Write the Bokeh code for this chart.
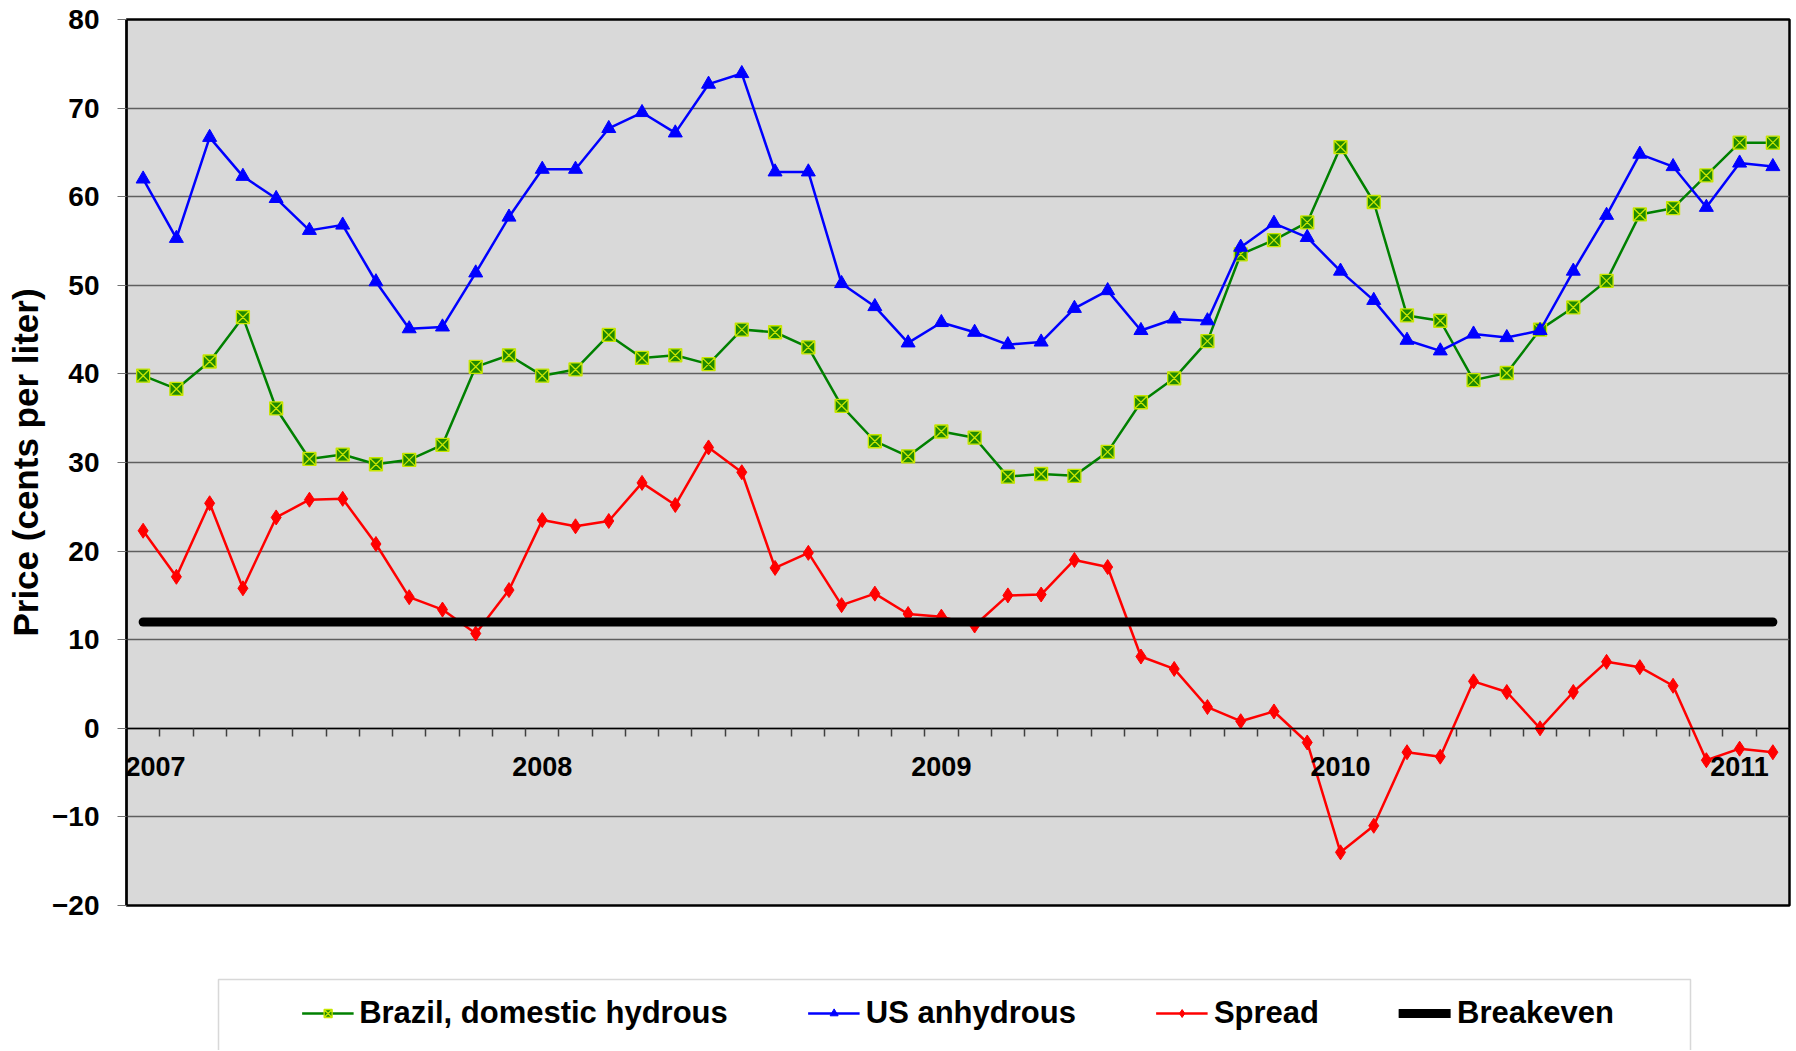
from bokeh.plotting import figure
from bokeh.layouts import column
from bokeh.models import Range1d, FixedTicker, Legend, LegendItem, BoxAnnotation
from bokeh.embed import file_html
from bokeh.resources import INLINE

# Monthly observations, Jan 2007 .. Feb 2011 (index = month number)
months = list(range(50))
year_labels = ["2007", "2008", "2009", "2010", "2011"]
year_positions = [0, 12, 24, 36, 48]

brazil = [39.8, 38.3, 41.4, 46.4, 36.1, 30.4, 30.9, 29.8, 30.3, 32.0,
          40.8, 42.1, 39.8, 40.5, 44.4, 41.8, 42.1, 41.1, 45.0, 44.7,
          43.0, 36.4, 32.4, 30.7, 33.5, 32.8, 28.4, 28.7, 28.5, 31.2,
          36.8, 39.5, 43.7, 53.5, 55.1, 57.1, 65.6, 59.4, 46.6, 46.0,
          39.3, 40.1, 45.0, 47.5, 50.5, 58.0, 58.7, 62.4, 66.1, 66.1]

us = [62.0, 55.3, 66.7, 62.3, 59.8, 56.2, 56.8, 50.4, 45.1, 45.3,
      51.4, 57.7, 63.1, 63.1, 67.7, 69.5, 67.2, 72.7, 73.9, 62.8,
      62.8, 50.2, 47.6, 43.5, 45.8, 44.7, 43.3, 43.6, 47.4, 49.4,
      44.9, 46.2, 46.0, 54.3, 57.0, 55.4, 51.6, 48.3, 43.8, 42.6,
      44.5, 44.1, 44.9, 51.6, 57.9, 64.8, 63.4, 58.8, 63.8, 63.4]

spread = [22.3, 17.1, 25.4, 15.8, 23.8, 25.8, 25.9, 20.8, 14.8, 13.4,
          10.7, 15.6, 23.5, 22.8, 23.4, 27.7, 25.2, 31.7, 28.9, 18.1,
          19.8, 13.9, 15.2, 12.9, 12.6, 11.6, 15.0, 15.1, 19.0, 18.2,
          8.1, 6.7, 2.4, 0.8, 1.9, -1.6, -14.0, -11.0, -2.7, -3.2,
          5.3, 4.1, 0.0, 4.1, 7.5, 6.9, 4.8, -3.6, -2.3, -2.7]

breakeven = 12.0
y_ticks = list(range(-20, 81, 10))

series_names = ["Brazil, domestic hydrous", "US anhydrous", "Spread", "Breakeven"]

FONT = "Liberation Sans"

# styles
GREEN_LINE = dict(line_color="#008000", line_width=2.5)
GREEN_MARK = dict(marker="square_x", size=13, fill_color="#1f8a00",
                  line_color="#c8e600", line_width=1.3)
BLUE_LINE = dict(line_color="#0000FF", line_width=2.5)
BLUE_MARK = dict(marker="triangle", size=14, fill_color="#0000FF", line_color="#0000FF")
RED_LINE = dict(line_color="#FF0000", line_width=2.5)
RED_MARK = dict(marker="diamond", size=15, fill_color="#FF0000", line_color="#FF0000")
BLACK_LINE = dict(line_color="black", line_width=9, line_cap="round")

x_lo, x_hi = months[0] - 0.5, months[-1] + 0.5

p = figure(width=1794, height=975, output_backend="svg", toolbar_location=None,
           x_range=Range1d(x_lo, x_hi), y_range=Range1d(-20, 80),
           min_border_left=126, min_border_right=5, min_border_top=19,
           min_border_bottom=70, background_fill_color="#D9D9D9",
           border_fill_color="white")

p.outline_line_color = "black"
p.outline_line_width = 2.5

# grid
p.xgrid.visible = False
p.ygrid.ticker = FixedTicker(ticks=y_ticks)
p.ygrid.grid_line_color = "#5f5f5f"
p.ygrid.grid_line_width = 1.5

# y axis
ya = p.yaxis[0]
ya.ticker = FixedTicker(ticks=y_ticks)
ya.major_label_text_font = FONT
ya.major_label_text_font_style = "bold"
ya.major_label_text_font_size = "28px"
ya.major_label_text_color = "black"
ya.major_label_standoff = 18
ya.major_tick_out = 9
ya.major_tick_in = 0
ya.major_tick_line_color = "#707070"
ya.minor_tick_line_color = None
ya.axis_line_color = "black"
ya.axis_line_width = 2
ya.axis_label = "Price (cents per liter)"
ya.axis_label_text_font = FONT
ya.axis_label_text_font_style = "bold"
ya.axis_label_text_font_size = "35px"
ya.axis_label_text_color = "black"
ya.axis_label_standoff = 4

# x axis drawn at y = 0; year labels under the first month of each year
# (the first one nudged inside the frame so it is not clipped)
boundaries = [m - 0.5 for m in months] + [months[-1] + 0.5]
label_pos = [max(pos, x_lo + 0.87) for pos in year_positions]
xa = p.xaxis[0]
xa.fixed_location = 0
xa.ticker = FixedTicker(ticks=label_pos, minor_ticks=boundaries[1:-1])
xa.major_label_overrides = {pos: lab for pos, lab in zip(label_pos, year_labels)}
xa.major_tick_out = 0
xa.major_tick_in = 0
xa.minor_tick_out = 8
xa.minor_tick_in = 0
xa.minor_tick_line_color = "#404040"
xa.minor_tick_line_width = 1.5
xa.axis_line_color = "black"
xa.axis_line_width = 1.5
xa.major_label_standoff = 21
xa.major_label_text_font = FONT
xa.major_label_text_font_style = "bold"
xa.major_label_text_font_size = "27px"
xa.major_label_text_color = "black"

# series
p.line(months, brazil, **GREEN_LINE)
p.scatter(months, brazil, **GREEN_MARK)
p.line(months, us, **BLUE_LINE)
p.scatter(months, us, **BLUE_MARK)
p.line(months, spread, **RED_LINE)
p.scatter(months, spread, **RED_MARK)
p.line([months[0], months[-1]], [breakeven, breakeven], **BLACK_LINE)

# ---- legend strip (separate figure directly below) ----
p2 = figure(width=1794, height=75, output_backend="svg", toolbar_location=None,
            x_range=Range1d(x_lo, x_hi), y_range=Range1d(-20, 80),
            x_axis_location=None, y_axis_location=None,
            min_border_left=120, min_border_right=0, min_border_top=0,
            min_border_bottom=0, border_fill_color="white",
            background_fill_color="white")
p2.outline_line_color = None
p2.grid.visible = False

box = BoxAnnotation(left=218, right=1690, top=4, bottom=300,
                    left_units="canvas", right_units="canvas",
                    top_units="canvas", bottom_units="canvas",
                    fill_color="white", fill_alpha=1.0,
                    line_color="#7f7f7f", line_width=1.5)
p2.add_layout(box)

# legend proxies: same series, hidden (only their legend swatches show)
lg_l = p2.line(months, brazil, visible=False, **GREEN_LINE)
lg_m = p2.scatter(months, brazil, visible=False, **GREEN_MARK)
lb_l = p2.line(months, us, visible=False, **BLUE_LINE)
lb_m = p2.scatter(months, us, visible=False, **BLUE_MARK)
lr_l = p2.line(months, spread, visible=False, **RED_LINE)
lr_m = p2.scatter(months, spread, visible=False, **RED_MARK)
lk_l = p2.line([months[0], months[-1]], [breakeven, breakeven], visible=False, **BLACK_LINE)

legend = Legend(items=[
    LegendItem(label=series_names[0], renderers=[lg_l, lg_m]),
    LegendItem(label=series_names[1], renderers=[lb_l, lb_m]),
    LegendItem(label=series_names[2], renderers=[lr_l, lr_m]),
    LegendItem(label=series_names[3], renderers=[lk_l]),
], location="center", orientation="horizontal")
legend.click_policy = "none"
legend.padding = 6
legend.margin = 0
legend.spacing = 80
legend.glyph_width = 52
legend.glyph_height = 20
legend.label_standoff = 6
legend.label_text_font = FONT
legend.label_text_font_style = "bold"
legend.label_text_font_size = "31px"
legend.label_text_color = "black"
legend.border_line_color = None
legend.background_fill_alpha = 0.0
legend.inactive_fill_alpha = 0.0
p2.add_layout(legend)

open("out.html", "w").write(file_html(column(p, p2, spacing=0), INLINE))
